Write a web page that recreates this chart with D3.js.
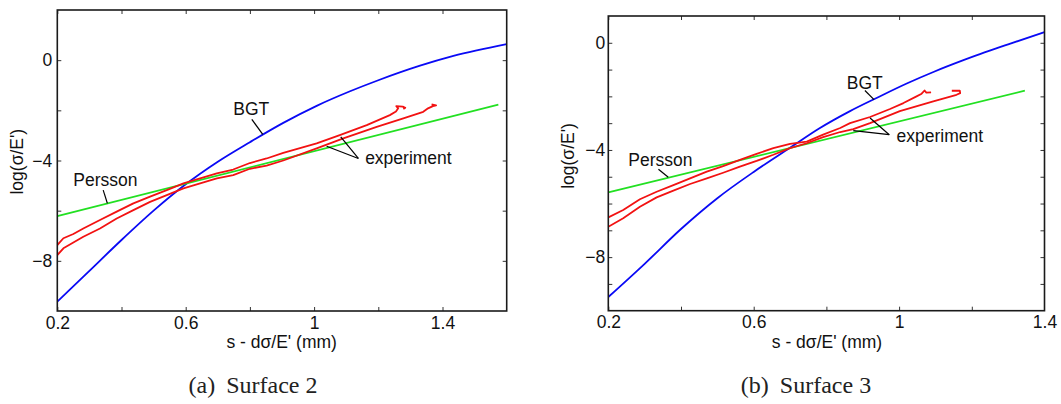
<!DOCTYPE html>
<html>
<head>
<meta charset="utf-8">
<script src="https://cdn.jsdelivr.net/npm/d3@7"></script>
<style>
  html, body { margin: 0; padding: 0; background: #fff; }
  svg { display: block; }
</style>
</head>
<body>
<svg id="fig" width="1061" height="404"></svg>
<script>
// ---------- Surface 2 ----------
const s2BgtX = [0.2, 0.3, 0.4, 0.5, 0.6, 0.7, 0.8, 0.904, 1.008, 1.112, 1.2, 1.33, 1.434, 1.6];
const s2BgtY = [-9.63, -8.4, -7.17, -6.0, -4.95, -4.05, -3.27, -2.5, -1.82, -1.24, -0.8, -0.22, 0.17, 0.64];
const s2PerssonX = [0.2, 1.574];
const s2PerssonY = [-6.22, -1.77];
const s2ExpAX = [0.2, 0.219, 0.25, 0.281, 0.333, 0.385, 0.437, 0.489, 0.541, 0.593, 0.645, 0.697, 0.748, 0.8, 0.852, 0.904, 1.008, 1.08, 1.164, 1.236, 1.255, 1.262, 1.256, 1.276, 1.284, 1.278];
const s2ExpAY = [-7.37, -7.1, -6.93, -6.71, -6.37, -6.04, -5.71, -5.44, -5.18, -4.91, -4.71, -4.51, -4.36, -4.1, -3.92, -3.7, -3.32, -2.99, -2.59, -2.19, -2.05, -1.92, -1.83, -1.85, -1.9, -1.95];
const s2ExpBX = [0.2, 0.219, 0.281, 0.333, 0.385, 0.437, 0.489, 0.541, 0.593, 0.645, 0.697, 0.748, 0.8, 0.852, 0.904, 1.008, 1.091, 1.195, 1.278, 1.34, 1.355, 1.37, 1.38, 1.366];
const s2ExpBY = [-7.77, -7.5, -7.04, -6.71, -6.31, -5.98, -5.65, -5.38, -5.11, -4.91, -4.71, -4.58, -4.33, -4.2, -4.0, -3.52, -3.12, -2.66, -2.32, -2.06, -1.92, -1.83, -1.8, -1.76];

// ---------- Surface 3 ----------
const s3BgtX = [0.2, 0.3, 0.4, 0.5, 0.6, 0.7, 0.78, 0.865, 0.938, 1.021, 1.096, 1.177, 1.235, 1.3, 1.4];
const s3BgtY = [-9.49, -8.25, -6.95, -5.8, -4.82, -3.92, -3.2, -2.55, -2.06, -1.52, -1.08, -0.65, -0.36, -0.06, 0.4];
const s3PerssonX = [0.2, 1.346];
const s3PerssonY = [-5.58, -1.79];
const s3ExpAX = [0.2, 0.241, 0.287, 0.333, 0.379, 0.425, 0.471, 0.516, 0.562, 0.608, 0.654, 0.7, 0.746, 0.791, 0.838, 0.865, 0.92, 0.975, 1.012, 1.048, 1.062, 1.07, 1.075, 1.088];
const s3ExpAY = [-6.52, -6.24, -5.84, -5.56, -5.31, -5.06, -4.81, -4.6, -4.37, -4.15, -3.93, -3.77, -3.69, -3.43, -3.18, -3.0, -2.77, -2.47, -2.25, -2.0, -1.9, -1.78, -1.86, -1.85];
const s3ExpBX = [0.2, 0.241, 0.287, 0.333, 0.379, 0.425, 0.471, 0.516, 0.562, 0.608, 0.654, 0.7, 0.746, 0.791, 0.838, 0.874, 0.92, 1.002, 1.094, 1.158, 1.168, 1.167, 1.145];
const s3ExpBY = [-6.87, -6.55, -6.12, -5.77, -5.52, -5.27, -5.06, -4.85, -4.62, -4.41, -4.18, -3.93, -3.75, -3.52, -3.33, -3.22, -3.0, -2.55, -2.19, -1.94, -1.88, -1.79, -1.79];

// ---------- axes ----------
const s2XDomain = [0.2, 1.6];
const s2YDomain = [-10, 2];
const s2XTicks = [0.2, 0.4, 0.6, 0.8, 1.0, 1.2, 1.4];
const s2YTicks = [-8, -6, -4, -2, 0];
const s3XDomain = [0.2, 1.4];
const s3YDomain = [-10, 1];
const s3XTicks = [0.2, 0.4, 0.6, 0.8, 1.0, 1.2];
const s3YTicks = [-9, -8, -7, -6, -5, -4, -3, -2, -1, 0];
const xTickLabels = [0.2, 0.6, 1, 1.4];
const yTickLabels = [-8, -4, 0];

// ---------- callouts (text anchor and leader lines, data units) ----------
const s2Callouts = [
  { text: "BGT", x: 0.748, y: -2.19, leaders: [[0.806, -2.36, 0.84, -2.96]] },
  { text: "Persson", x: 0.25, y: -5.02, leaders: [[0.343, -5.18, 0.356, -5.71]] },
  { text: "experiment", x: 1.159, y: -4.14, leaders: [[1.138, -3.92, 1.083, -3.06], [1.138, -3.92, 1.039, -3.43]] }
];
const s3Callouts = [
  { text: "BGT", x: 0.856, y: -1.72, leaders: [[0.906, -1.78, 0.931, -2.12]] },
  { text: "Persson", x: 0.255, y: -4.6, leaders: [[0.338, -4.72, 0.365, -5.02]] },
  { text: "experiment", x: 0.993, y: -3.69, leaders: [[0.973, -3.43, 0.92, -2.81], [0.973, -3.43, 0.874, -3.28]] }
];

const xLabel = "s - d\u03c3/E' (mm)";
const yLabel = "log(\u03c3/E')";

const COLORS = { bgt: "#0a0af5", persson: "#22e022", exp: "#f21212" };
const SANS = "'Liberation Sans', Arial, Helvetica, sans-serif";
const SERIF = "'Liberation Serif', 'Times New Roman', serif";
const FONT_SIZE = 17.5;

const panels = [
  {
    box: { left: 57.3, right: 506.7, top: 10, bottom: 311 },
    xDomain: s2XDomain, yDomain: s2YDomain, xTicks: s2XTicks, yTicks: s2YTicks,
    series: [
      { xs: s2BgtX, ys: s2BgtY, color: COLORS.bgt, smooth: true },
      { xs: s2PerssonX, ys: s2PerssonY, color: COLORS.persson, smooth: true },
      { xs: s2ExpAX, ys: s2ExpAY, color: COLORS.exp, smooth: false },
      { xs: s2ExpBX, ys: s2ExpBY, color: COLORS.exp, smooth: false }
    ],
    callouts: s2Callouts,
    xPad: 6, yPad: 5,
    xLabelPos: [281.7, 348], yLabelPos: [23, 161.7],
    caption: ["(a)", "Surface 2"], captionPos: [253, 393]
  },
  {
    box: { left: 608.3, right: 1044.5, top: 16, bottom: 310.7 },
    xDomain: s3XDomain, yDomain: s3YDomain, xTicks: s3XTicks, yTicks: s3YTicks,
    series: [
      { xs: s3BgtX, ys: s3BgtY, color: COLORS.bgt, smooth: true },
      { xs: s3PerssonX, ys: s3PerssonY, color: COLORS.persson, smooth: true },
      { xs: s3ExpAX, ys: s3ExpAY, color: COLORS.exp, smooth: false },
      { xs: s3ExpBX, ys: s3ExpBY, color: COLORS.exp, smooth: false }
    ],
    callouts: s3Callouts,
    xPad: 4.5, yPad: 3,
    xLabelPos: [827, 348], yLabelPos: [573.5, 156],
    caption: ["(b)", "Surface 3"], captionPos: [806, 393]
  }
];

const svg = d3.select("#fig");
const fmt = d => String(+d.toFixed(1));

panels.forEach(p => {
  const b = p.box;
  const x = d3.scaleLinear().domain(p.xDomain).range([b.left, b.right]);
  const y = d3.scaleLinear().domain(p.yDomain).range([b.bottom, b.top]);
  const g = svg.append("g");

  // inward tick marks on all four sides
  const tickLen = 4;
  const tickStyle = sel => {
    sel.select(".domain").remove();
    sel.selectAll(".tick line").attr("stroke", "#333").attr("stroke-width", 1);
  };
  g.append("g").attr("transform", `translate(0,${b.bottom})`)
    .call(d3.axisBottom(x).tickValues(p.xTicks).tickSize(-tickLen).tickFormat("")).call(tickStyle);
  g.append("g").attr("transform", `translate(0,${b.top})`)
    .call(d3.axisTop(x).tickValues(p.xTicks).tickSize(-tickLen).tickFormat("")).call(tickStyle);
  g.append("g").attr("transform", `translate(${b.left},0)`)
    .call(d3.axisLeft(y).tickValues(p.yTicks).tickSize(-tickLen).tickFormat("")).call(tickStyle);
  g.append("g").attr("transform", `translate(${b.right},0)`)
    .call(d3.axisRight(y).tickValues(p.yTicks).tickSize(-tickLen).tickFormat("")).call(tickStyle);

  // tick labels
  const xl = g.append("g").attr("transform", `translate(0,${b.bottom})`)
    .call(d3.axisBottom(x).tickValues(xTickLabels.filter(v => v <= p.xDomain[1] + 1e-9))
      .tickSize(0).tickPadding(p.xPad).tickFormat(fmt));
  xl.select(".domain").remove();
  xl.selectAll("text").attr("font-size", FONT_SIZE).attr("font-family", SANS).attr("fill", "#111");
  const yl = g.append("g").attr("transform", `translate(${b.left},0)`)
    .call(d3.axisLeft(y).tickValues(yTickLabels).tickSize(0).tickPadding(p.yPad).tickFormat(d3.format("d")));
  yl.select(".domain").remove();
  yl.selectAll("text").attr("font-size", FONT_SIZE).attr("font-family", SANS).attr("fill", "#111");

  // curves
  const clipId = "clip" + b.left.toFixed(0);
  svg.append("clipPath").attr("id", clipId).append("rect")
    .attr("x", b.left).attr("y", b.top).attr("width", b.right - b.left).attr("height", b.bottom - b.top);
  const curves = g.append("g").attr("clip-path", `url(#${clipId})`);
  p.series.forEach(s => {
    const line = d3.line()
      .x(d => x(d[0])).y(d => y(d[1]))
      .curve(s.smooth ? d3.curveMonotoneX : d3.curveLinear);
    curves.append("path")
      .datum(s.xs.map((v, i) => [v, s.ys[i]]))
      .attr("d", line)
      .attr("fill", "none")
      .attr("stroke", s.color)
      .attr("stroke-width", 1.8)
      .attr("stroke-linejoin", "round");
  });

  // frame
  g.append("rect")
    .attr("x", b.left).attr("y", b.top)
    .attr("width", b.right - b.left).attr("height", b.bottom - b.top)
    .attr("fill", "none").attr("stroke", "#1a1a1a").attr("stroke-width", 1.6);

  // callouts
  p.callouts.forEach(c => {
    c.leaders.forEach(l => {
      g.append("line")
        .attr("x1", x(l[0])).attr("y1", y(l[1]))
        .attr("x2", x(l[2])).attr("y2", y(l[3]))
        .attr("stroke", "#000").attr("stroke-width", 1.2);
    });
    g.append("text")
      .attr("x", x(c.x)).attr("y", y(c.y))
      .attr("font-family", SANS).attr("font-size", FONT_SIZE).attr("fill", "#111")
      .text(c.text);
  });

  // axis titles
  g.append("text")
    .attr("x", p.xLabelPos[0]).attr("y", p.xLabelPos[1])
    .attr("text-anchor", "middle")
    .attr("font-family", SANS).attr("font-size", FONT_SIZE).attr("fill", "#111")
    .text(xLabel);
  g.append("text")
    .attr("transform", `translate(${p.yLabelPos[0]},${p.yLabelPos[1]}) rotate(-90)`)
    .attr("text-anchor", "middle")
    .attr("font-family", SANS).attr("font-size", FONT_SIZE).attr("fill", "#111")
    .text(yLabel);

  // caption
  const cap = g.append("text")
    .attr("x", p.captionPos[0]).attr("y", p.captionPos[1])
    .attr("text-anchor", "middle")
    .attr("font-family", SERIF).attr("font-size", 24).attr("fill", "#222");
  cap.append("tspan").text(p.caption[0]);
  cap.append("tspan").attr("dx", 11).text(p.caption[1]);
});
</script>
</body>
</html>
